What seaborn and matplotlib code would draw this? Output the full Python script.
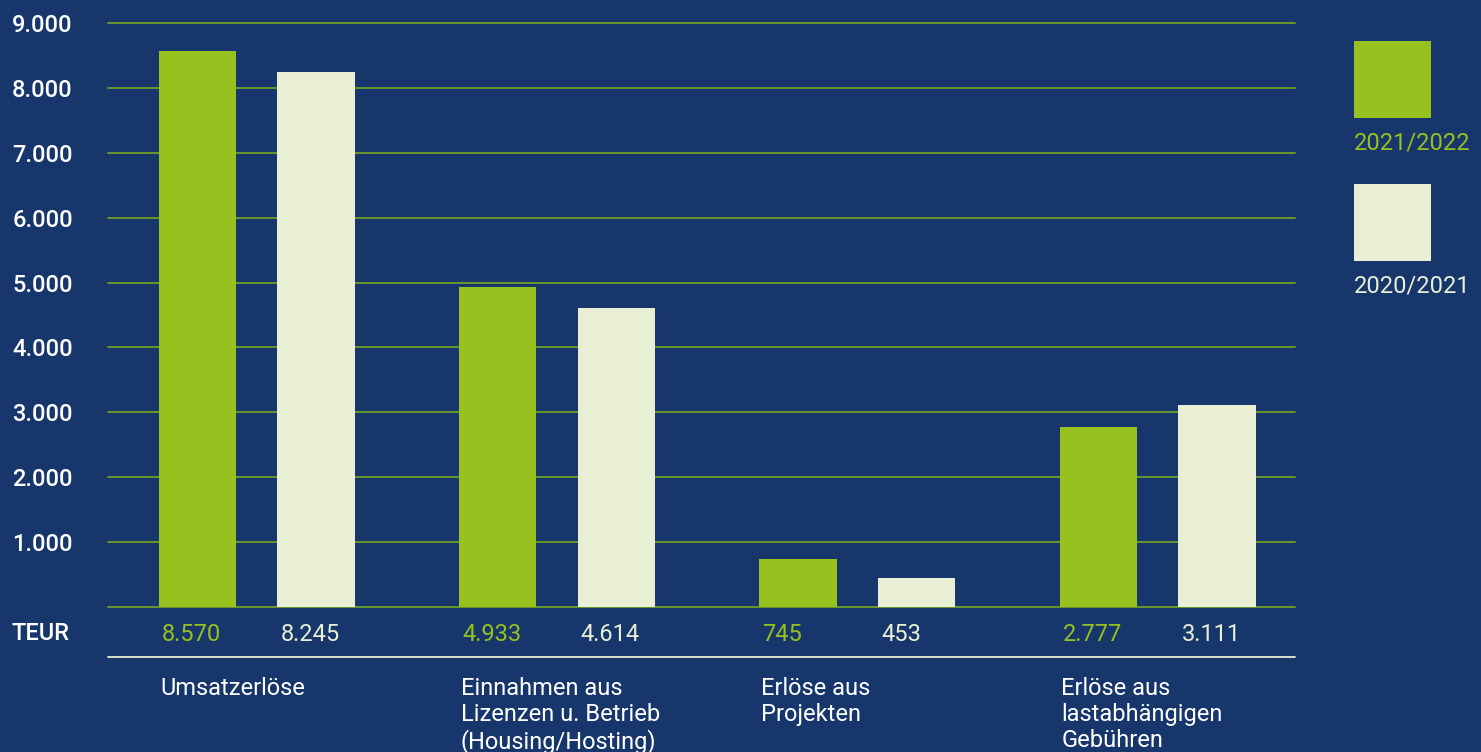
import pandas as pd
import seaborn as sns
import matplotlib.pyplot as plt
from matplotlib.patches import Rectangle

categories = ['Umsatzerlöse',
              'Einnahmen aus\nLizenzen u. Betrieb\n(Housing/Hosting)',
              'Erlöse aus\nProjekten',
              'Erlöse aus\nlastabhängigen\nGebühren']
periods = ['2021/2022', '2020/2021']
values_2122 = [8570, 4933, 745, 2777]
values_2021 = [8245, 4614, 453, 3111]
value_labels_2122 = ['8.570', '4.933', '745', '2.777']
value_labels_2021 = ['8.245', '4.614', '453', '3.111']
ytick_vals = [1000, 2000, 3000, 4000, 5000, 6000, 7000, 8000, 9000]
ytick_labels = ['1.000', '2.000', '3.000', '4.000', '5.000', '6.000', '7.000', '8.000', '9.000']

bg = '#17366b'
green = '#97c11f'
cream = '#e9efd5'
grid = '#6f9e26'

df = pd.DataFrame({
    'cat': categories * 2,
    'period': [periods[0]] * 4 + [periods[1]] * 4,
    'value': values_2122 + values_2021,
})

sns.set_style('white')
plt.rcParams['font.family'] = ['Roboto', 'DejaVu Sans']

fig = plt.figure(figsize=(14.81, 7.52), dpi=100, facecolor=bg)
ax = fig.add_axes([0.0729, 0.1928, 0.8015, 0.7766])
ax.set_facecolor(bg)

sns.barplot(data=df, x='cat', y='value', hue='period', hue_order=periods,
            palette=[green, cream], width=0.79, gap=0.35, saturation=1,
            linewidth=0, ax=ax, legend=False, zorder=3)

ax.set_xlim(-0.495, 3.457)
ax.set_ylim(0, 9000)
for s in ax.spines.values():
    s.set_visible(False)
ax.set_xlabel('')
ax.set_ylabel('')
ax.set_xticks([])
ax.set_yticks(ytick_vals)
ax.set_yticklabels(ytick_labels, ha='left', color='white', fontsize=17, fontweight='medium')
ax.tick_params(axis='y', length=0, pad=69)
for v in [0] + ytick_vals:
    ax.axhline(v, color=grid, lw=1.3, zorder=1, clip_on=False)

# bars: first 4 are 2021/2022, next 4 are 2020/2021
bars = ax.patches
trans = ax.get_xaxis_transform()
for i in range(4):
    g = bars[i]
    c = bars[i + 4]
    ax.text(g.get_x() + 0.01, -0.047, value_labels_2122[i], transform=trans,
            color=green, fontsize=17, ha='left', va='center', clip_on=False)
    ax.text(c.get_x() + 0.01, -0.047, value_labels_2021[i], transform=trans,
            color=cream, fontsize=17, ha='left', va='center', clip_on=False)
    ax.text(g.get_x() + 0.005, -0.12, categories[i], transform=trans,
            color='white', fontsize=17, ha='left', va='top', linespacing=1.17,
            clip_on=False)

fig.text(12 / 1481, 1 - 634 / 752, 'TEUR', color='white', fontsize=17,
         fontweight='medium', ha='left', va='center')
fig.add_artist(plt.Line2D([108 / 1481, 1295 / 1481], [1 - 657 / 752] * 2,
                          color=cream, lw=1.3, transform=fig.transFigure))

# legend
for top, col, lab in [(41, green, periods[0]), (184, cream, periods[1])]:
    fig.add_artist(Rectangle((1354 / 1481, 1 - (top + 77) / 752), 77 / 1481, 77 / 752,
                             transform=fig.transFigure, color=col, lw=0))
    fig.text(1354 / 1481, 1 - (top + 102) / 752, lab, color=col, fontsize=17,
             ha='left', va='center')

fig.savefig('out.png', dpi=100, facecolor=bg)
